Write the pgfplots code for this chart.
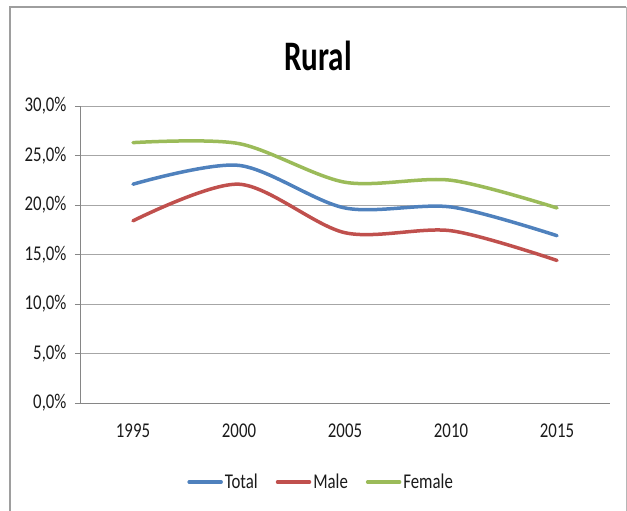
\documentclass[border=0pt]{standalone}
\usepackage{pgfplots}
\pgfplotsset{compat=1.18}
\usepackage{fontspec}
\setmainfont{Carlito}[FakeStretch=0.8]
\newfontfamily\titlefont{Carlito}[FakeStretch=0.74]
\definecolor{cTotal}{HTML}{4F81BD}
\definecolor{cMale}{HTML}{C0504D}
\definecolor{cFemale}{HTML}{9BBB59}
\definecolor{gridc}{HTML}{A6A6A6}
\definecolor{axc}{HTML}{868686}
\definecolor{txt}{HTML}{1A1A1A}
\begin{document}
\begin{tikzpicture}[x=1pt,y=1pt]
\path[use as bounding box] (0,0) rectangle (627,511);
% chart frame
\draw[color=axc!80, line width=2.5pt] (10,0) -- (10,504) -- (626,504);
\draw[color=axc!60, line width=1pt] (626,504) -- (626,0);
\node[font=\titlefont\bfseries\fontsize{42}{46}\selectfont, text=black] at (318,455) {Rural};
\begin{axis}[
  at={(80pt,108pt)}, anchor=south west,
  scale only axis, width=530pt, height=297pt,
  xmin=-0.5, xmax=4.5, ymin=0, ymax=30,
  axis lines*=left,
  axis line style={color=axc, line width=0.8pt},
  xtick={0,1,2,3,4},
  xticklabels={1995,2000,2005,2010,2015},
  x tick label style={font=\fontsize{21}{25}\selectfont, text=txt, yshift=-12pt},
  xtick style={draw=none},
  extra x ticks={-0.5,0.5,1.5,2.5,3.5,4.5},
  extra x tick labels={},
  extra x tick style={tick style={draw=axc, line width=0.8pt}, major tick length=6pt, tick align=outside, grid=none},
  ytick={0,5,10,15,20,25,30},
  yticklabels={{0,0\%},{5,0\%},{10,0\%},{15,0\%},{20,0\%},{25,0\%},{30,0\%}},
  y tick label style={font=\fontsize{21}{25}\selectfont, text=txt, xshift=-5pt},
  ytick style={draw=axc, line width=0.8pt},
  tick align=outside, major tick length=5pt,
  ymajorgrids, grid style={color=gridc, line width=0.9pt},
  legend columns=3,
  legend style={at={(0.455,-0.266)}, anchor=center, draw=none, fill=none,
    font=\fontsize{21}{25}\selectfont, text=txt,
    /tikz/every even column/.append style={column sep=16pt}},
  legend image code/.code={\draw[#1, line width=3.5pt, line cap=round] (0pt,0pt) -- (32pt,0pt);},
  every axis plot/.append style={line width=3.5pt, smooth, line cap=round},
]
\addplot[color=cTotal] coordinates {(0,22.1) (1,24.0) (2,19.7) (3,19.8) (4,16.9)};
\addlegendentry{Total}
\addplot[color=cMale] coordinates {(0,18.4) (1,22.1) (2,17.2) (3,17.4) (4,14.4)};
\addlegendentry{Male}
\addplot[color=cFemale] coordinates {(0,26.3) (1,26.2) (2,22.3) (3,22.5) (4,19.7)};
\addlegendentry{Female}
\end{axis}
\end{tikzpicture}
\end{document}
